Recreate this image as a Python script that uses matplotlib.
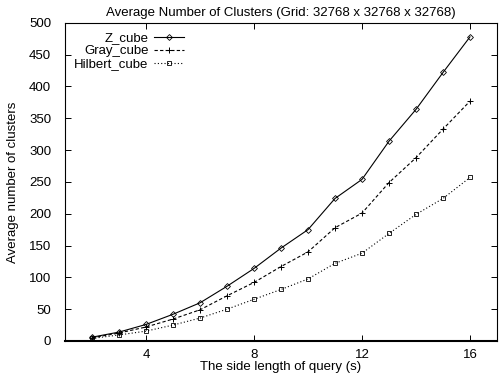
import matplotlib
matplotlib.use("Agg")
import matplotlib.pyplot as plt

plt.rcParams['font.family'] = ['Liberation Sans', 'DejaVu Sans']

side = [2, 3, 4, 5, 6, 7, 8, 9, 10, 11, 12, 13, 14, 15, 16]
z_cube = [6, 14, 26, 42, 60, 86, 114, 146, 175, 224, 254, 314, 364, 422, 478]
gray_cube = [5, 12.5, 22, 34.5, 49, 71, 92, 117, 140, 178, 201, 249, 288, 333, 377]
hilbert_cube = [4, 9.5, 15.5, 25, 36, 50, 65.5, 81, 97.5, 122, 138, 169, 199, 224, 257]

fs = 9.5

fig = plt.figure(figsize=(5, 3.81), dpi=100)
ax = fig.add_axes([0.13, 0.105, 0.864, 0.835])

ax.plot(side, z_cube, color='black', lw=0.8, ls='-', marker='D', ms=3,
        mfc='none', mew=0.6, label='Z_cube')
ax.plot(side, gray_cube, color='black', lw=0.8, ls=(0, (3, 2)), marker='+', ms=4.5,
        mew=0.7, label='Gray_cube')
ax.plot(side, hilbert_cube, color='black', lw=0.8, ls=(0, (1, 2)), marker='s', ms=3.5,
        mfc='none', mew=0.6, label='Hilbert_cube')

ax.set_xlim(1, 17)
ax.set_ylim(0, 500)
ax.set_xticks([4, 8, 12, 16])
ax.set_yticks(range(0, 501, 50))
ax.tick_params(direction='in', top=True, right=True, labelsize=fs, length=4, width=0.7)
ax.tick_params(axis='y', pad=10)
ax.tick_params(axis='x', pad=6)
for s in ax.spines.values():
    s.set_linewidth(0.8)
ax.spines['bottom'].set_linewidth(1.5)

ax.set_title('Average Number of Clusters (Grid: 32768 x 32768 x 32768)', fontsize=fs, pad=5)
ax.set_xlabel('The side length of query (s)', fontsize=fs, labelpad=0)
ax.set_ylabel('Average number of clusters', fontsize=fs, labelpad=7)

leg = ax.legend(loc='upper left', markerfirst=False, frameon=False, fontsize=fs,
                handlelength=2.3, handletextpad=0.4, labelspacing=0.05,
                borderaxespad=0.3, bbox_to_anchor=(0.0, 1.0))
for t in leg.get_texts():
    t.set_ha('right')
leg._legend_box.align = 'right'

fig.savefig('out.png', dpi=100)
